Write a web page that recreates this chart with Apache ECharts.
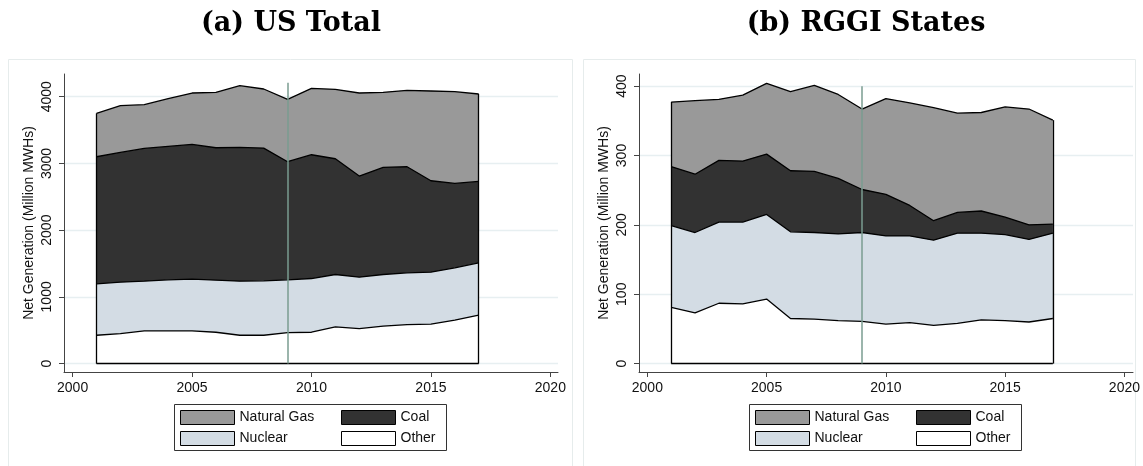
<!DOCTYPE html>
<html>
<head>
<meta charset="utf-8">
<script src="https://cdn.jsdelivr.net/npm/echarts@6/dist/echarts.min.js"></script>
<style>
  html, body { margin: 0; padding: 0; background: #fff; }
  #chart { width: 1143px; height: 466px; }
</style>
</head>
<body>
<div id="chart"></div>
<script>
// Net generation by fuel, 2001-2017 (million MWh)
const years = [2001, 2002, 2003, 2004, 2005, 2006, 2007, 2008, 2009, 2010, 2011, 2012, 2013, 2014, 2015, 2016, 2017];

// Panel (a): US total
const usOther   = [425, 450, 490, 490, 490, 470, 425, 425, 465, 470, 550, 525, 560, 585, 590, 650, 725];
const usNuclear = [770, 770, 745, 765, 775, 780, 810, 815, 790, 805, 785, 770, 775, 775, 780, 785, 785];
const usCoal    = [1905, 1945, 1990, 2000, 2020, 1985, 2005, 1990, 1770, 1855, 1735, 1515, 1605, 1590, 1370, 1265, 1220];
const usGas     = [650, 700, 655, 715, 770, 830, 925, 885, 935, 995, 1040, 1245, 1125, 1145, 1345, 1375, 1310];

// Panel (b): RGGI states
const rgOther   = [81, 73, 87, 86, 93, 65, 64, 62, 61, 57, 59, 55, 58, 63, 62, 60, 65];
const rgNuclear = [118, 116, 117, 118, 122, 125, 125, 125, 128, 127, 125, 123, 130, 125, 124, 119, 123];
const rgCoal    = [85, 84, 89, 88, 87, 88, 88, 80, 62, 60, 44, 28, 30, 32, 25, 21, 13];
const rgGas     = [93, 106, 88, 95, 102, 114, 124, 121, 116, 138, 148, 163, 143, 142, 159, 167, 150];

// Axis ticks
const xTicks = [2000, 2005, 2010, 2015, 2020];
const usTicks = [0, 1000, 2000, 3000, 4000];
const rgTicks = [0, 100, 200, 300, 400];

// Year RGGI began, and the height the reference line reaches in each panel
const policyYear = 2009;
const usLineTop = 4210;
const rgLineTop = 400;

// Bottom-to-top stacking order
const fuels = ['Other', 'Nuclear', 'Coal', 'Natural Gas'];
const fills = { 'Other': '#ffffff', 'Nuclear': '#d3dce4', 'Coal': '#323232', 'Natural Gas': '#999999' };

const FONT = 'Liberation Sans, Arial, sans-serif';

// Running totals: layer k's upper edge = sum of layers 0..k
function cumulative(layers) {
  const out = [];
  let run = years.map(() => 0);
  layers.forEach(a => {
    run = run.map((v, i) => v + a[i]);
    out.push(run.slice());
  });
  return out;
}

function areaSeries(idx, name, tops) {
  return {
    type: 'line', name: name, xAxisIndex: idx, yAxisIndex: idx,
    data: years.map((y, i) => [y, tops[i]]), showSymbol: false, symbol: 'none',
    z: 2, silent: true,
    itemStyle: { color: fills[name] },
    lineStyle: { color: '#000', width: 1.3 },
    areaStyle: { color: fills[name], opacity: 1, origin: 0 },
    emphasis: { disabled: true }
  };
}

// Upper layers are drawn first so each lower layer paints over them from zero
function panelSeries(idx, layers) {
  const cum = cumulative(layers);
  const list = [];
  for (let k = fuels.length - 1; k >= 0; k--) list.push(areaSeries(idx, fuels[k], cum[k]));
  return list;
}

// Horizontal grid lines behind the areas
function gridSeries(idx, ticks) {
  return {
    type: 'line', xAxisIndex: idx, yAxisIndex: idx, data: [], z: 0, silent: true,
    markLine: {
      z: 0, zlevel: 0,
      symbol: 'none', silent: true, animation: false,
      label: { show: false },
      lineStyle: { color: '#e7eff1', width: 1.3, type: 'solid' },
      emphasis: { disabled: true },
      data: ticks.map(t => ({ yAxis: t }))
    }
  };
}

// Outline of the stacked block plus the vertical policy line
function frameSeries(idx, layers, lineTop) {
  const n = years.length;
  const total = cumulative(layers)[layers.length - 1];
  const first = years[0], last = years[n - 1];
  return {
    type: 'line', xAxisIndex: idx, yAxisIndex: idx, data: [], z: 6, silent: true,
    markLine: {
      z: 6,
      symbol: 'none', silent: true, animation: false,
      label: { show: false },
      emphasis: { disabled: true },
      lineStyle: { color: '#000', width: 1.3, type: 'solid' },
      data: [
        [{ coord: [first, 0] }, { coord: [first, total[0]] }],
        [{ coord: [last, 0] }, { coord: [last, total[n - 1]] }],
        [{ coord: [first, 0] }, { coord: [last, 0] }],
        [{ coord: [policyYear, 0], lineStyle: { color: '#7a9c90', width: 1.5 } },
         { coord: [policyYear, lineTop] }]
      ]
    }
  };
}

const plain = v => String(v);

function xAxisDef(idx, min, max) {
  return {
    type: 'value', gridIndex: idx, min: min, max: max,
    axisLine: { show: true, onZero: false, lineStyle: { color: '#444', width: 1 } },
    axisTick: { show: true, length: 5, customValues: xTicks, lineStyle: { color: '#444' } },
    axisLabel: { customValues: xTicks, formatter: plain, color: '#111', fontFamily: FONT, fontSize: 14, margin: 9 },
    splitLine: { show: false }
  };
}

function yAxisDef(idx, min, max, ticks) {
  return {
    type: 'value', gridIndex: idx, min: min, max: max,
    name: 'Net Generation (Million MWHs)', nameLocation: 'middle', nameGap: 28, nameRotate: 90,
    nameTextStyle: { color: '#111', fontFamily: FONT, fontSize: 14 },
    axisLine: { show: true, onZero: false, lineStyle: { color: '#444', width: 1 } },
    axisTick: { show: true, length: 5, customValues: ticks, lineStyle: { color: '#444' } },
    axisLabel: { customValues: ticks, formatter: plain, rotate: 90, color: '#111', fontFamily: FONT, fontSize: 14, margin: 10 },
    splitLine: { show: false }
  };
}

function legendCol(left, names) {
  return {
    orient: 'vertical', left: left, top: 410, padding: 0,
    itemWidth: 54, itemHeight: 14, itemGap: 6, itemTextGap: 8,
    selectedMode: false,
    textStyle: { color: '#111', fontFamily: FONT, fontSize: 14 },
    data: names.map(nm => ({
      name: nm, icon: 'rect',
      itemStyle: { color: fills[nm], borderColor: '#000', borderWidth: 1 }
    }))
  };
}

const usLayers = [usOther, usNuclear, usCoal, usGas];
const rgLayers = [rgOther, rgNuclear, rgCoal, rgGas];

const series = [
  gridSeries(0, usTicks),
  gridSeries(1, rgTicks),
  ...panelSeries(0, usLayers),
  ...panelSeries(1, rgLayers),
  frameSeries(0, usLayers, usLineTop),
  frameSeries(1, rgLayers, rgLineTop)
];

const option = {
  animation: false,
  backgroundColor: '#fff',
  grid: [
    { left: 64, top: 74, width: 494, height: 298, containLabel: false },
    { left: 639, top: 74, width: 494, height: 298, containLabel: false }
  ],
  xAxis: [xAxisDef(0, 1999.64, 2020.32), xAxisDef(1, 1999.65, 2020.36)],
  yAxis: [yAxisDef(0, -126, 4340, usTicks), yAxisDef(1, -12.1, 417.5, rgTicks)],
  legend: [
    legendCol(180, ['Natural Gas', 'Nuclear']),
    legendCol(341, ['Coal', 'Other']),
    legendCol(755, ['Natural Gas', 'Nuclear']),
    legendCol(916, ['Coal', 'Other'])
  ],
  tooltip: { show: false },
  graphic: [
    { type: 'rect', shape: { x: 8.5, y: 59.5, width: 564, height: 420 }, silent: true,
      style: { fill: 'none', stroke: '#e6ecec', lineWidth: 1 }, z: -10 },
    { type: 'rect', shape: { x: 583.5, y: 59.5, width: 552, height: 420 }, silent: true,
      style: { fill: 'none', stroke: '#e6ecec', lineWidth: 1 }, z: -10 },
    { type: 'rect', shape: { x: 174.5, y: 404.5, width: 272, height: 46 }, silent: true,
      style: { fill: 'none', stroke: '#333', lineWidth: 1 } },
    { type: 'rect', shape: { x: 749.5, y: 404.5, width: 272, height: 46 }, silent: true,
      style: { fill: 'none', stroke: '#333', lineWidth: 1 } },
    { type: 'text', x: 291, y: 24, silent: true,
      style: { text: '(a) US Total', align: 'center', verticalAlign: 'middle',
               font: 'bold 27px "DejaVu Serif", serif', fill: '#000' } },
    { type: 'text', x: 866, y: 24, silent: true,
      style: { text: '(b) RGGI States', align: 'center', verticalAlign: 'middle',
               font: 'bold 27px "DejaVu Serif", serif', fill: '#000' } }
  ],
  series: series
};

const chart = echarts.init(document.getElementById('chart'), null, { renderer: 'canvas' });
chart.setOption(option);
</script>
</body>
</html>
